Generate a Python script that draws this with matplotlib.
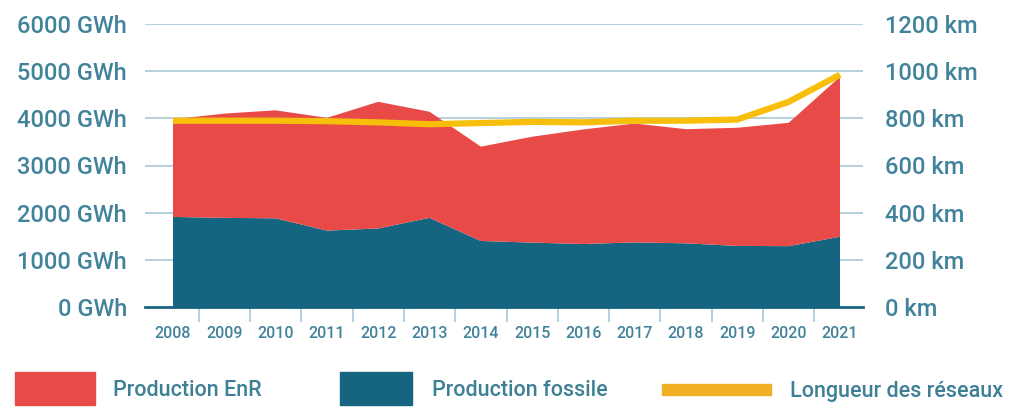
import matplotlib
matplotlib.use("Agg")
import matplotlib.pyplot as plt
from matplotlib.patches import Rectangle

years = [2008, 2009, 2010, 2011, 2012, 2013, 2014, 2015, 2016, 2017, 2018, 2019, 2020, 2021]
fossile = [1910, 1890, 1880, 1620, 1665, 1890, 1400, 1365, 1335, 1370, 1350, 1295, 1290, 1490]
total = [3980, 4100, 4170, 4010, 4350, 4140, 3400, 3610, 3765, 3890, 3770, 3800, 3905, 4880]
enr = [t - f for t, f in zip(total, fossile)]
reseaux_km = [790, 790, 790, 788, 783, 775, 780, 785, 783, 790, 790, 795, 870, 985]

gwh_ticks = [0, 1000, 2000, 3000, 4000, 5000, 6000]
km_ticks = [0, 200, 400, 600, 800, 1000, 1200]

RED = "#e84a48"
TEAL = "#156580"
YELLOW = "#f7bf0a"
YELLOW_LEG = "#f2b026"
TXT = "#42839c"
LEGTXT = "#3d7f95"
GRID = "#a9c9d5"

plt.rcParams['font.family'] = ['Roboto', 'DejaVu Sans']

fig = plt.figure(figsize=(10.13, 4.09), dpi=100)
W, H = 1013, 409
ax = fig.add_axes([145 / W, 1 - 307 / H, (863 - 145) / W, (307 - 24) / H])

px_per_year = (840 - 173) / 13
x0 = 2008 - (173 - 145) / px_per_year
x1 = 2021 + (863 - 840) / px_per_year
ax.set_xlim(x0, x1)
ax.set_ylim(0, 6000)

for g in gwh_ticks[1:]:
    ax.axhline(g, color=GRID, lw=1.2, zorder=0)

ax.stackplot(years, fossile, enr, colors=[TEAL, RED], zorder=2, linewidth=0)

for s in ['top', 'right', 'left']:
    ax.spines[s].set_visible(False)
ax.spines['bottom'].set_color(TEAL)
ax.spines['bottom'].set_linewidth(2)
ax.spines['bottom'].set_zorder(5)

ax.set_yticks(gwh_ticks)
ax.set_yticklabels([f"{v} GWh" for v in gwh_ticks])
ax.tick_params(axis='y', length=0, pad=13, labelsize=17, labelcolor=TXT)

ax.set_xticks(years)
ax.set_xticklabels([str(y) for y in years])
ax.set_xticks([y + 0.5 for y in years[:-1]], minor=True)
ax.tick_params(axis='x', which='major', length=0, pad=14, labelsize=11.5, labelcolor=TXT)
ax.tick_params(axis='x', which='minor', length=11, width=1.2, color=GRID)
for lbl in ax.get_yticklabels() + ax.get_xticklabels():
    lbl.set_fontweight('medium')

ax2 = ax.twinx()
ax2.set_ylim(0, 1200)
ax2.plot(years, reseaux_km, color=YELLOW, lw=4.5, zorder=3, solid_capstyle='butt')
ax2.set_yticks(km_ticks)
ax2.set_yticklabels([f"{v} km" for v in km_ticks])
ax2.tick_params(axis='y', length=0, pad=16, labelsize=17, labelcolor=TXT)
for lbl in ax2.get_yticklabels():
    lbl.set_fontweight('medium')
for s in ['top', 'right', 'left', 'bottom']:
    ax2.spines[s].set_visible(False)

# legend
def fx(p):
    return p / W

def fy(p):
    return 1 - p / H

fig.add_artist(Rectangle((fx(15), fy(405)), fx(95) - fx(15), fy(372) - fy(405),
                         transform=fig.transFigure, color=RED))
fig.text(fx(113), fy(391), "Production EnR", color=LEGTXT, fontsize=15.5,
         fontweight='medium', va='center', ha='left')
fig.add_artist(Rectangle((fx(340), fy(405)), fx(412) - fx(340), fy(372) - fy(405),
                         transform=fig.transFigure, color=TEAL))
fig.text(fx(432), fy(391), "Production fossile", color=LEGTXT, fontsize=15.5,
         fontweight='medium', va='center', ha='left')
fig.add_artist(Rectangle((fx(662), fy(395)), fx(771) - fx(662), fy(384) - fy(395),
                         transform=fig.transFigure, color=YELLOW_LEG))
fig.text(fx(790), fy(391), "Longueur des réseaux", color=LEGTXT, fontsize=15.5,
         fontweight='medium', va='center', ha='left')

fig.savefig("out.png", dpi=100)
